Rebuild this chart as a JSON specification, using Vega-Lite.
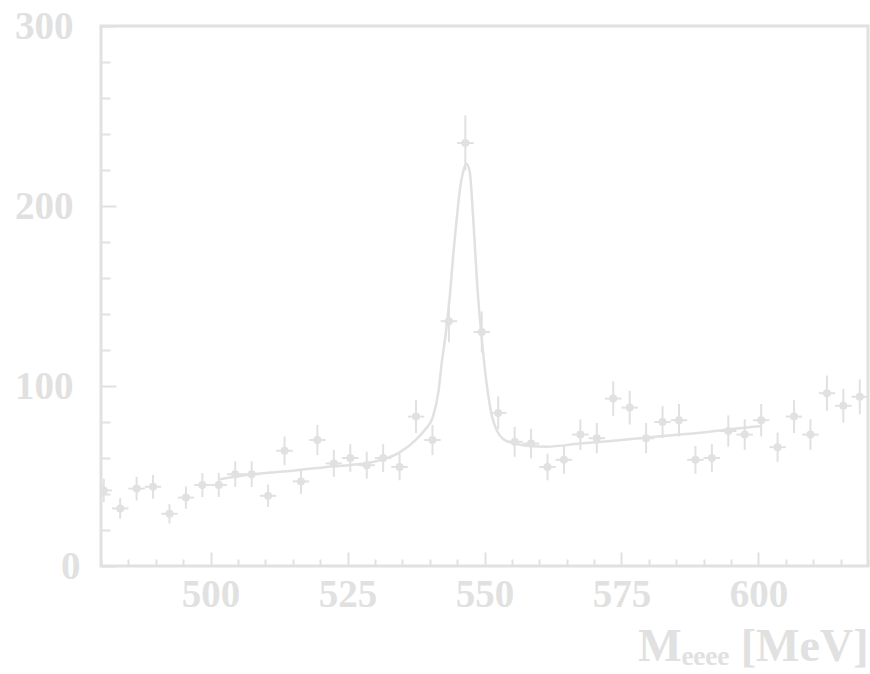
{
  "$schema": "https://vega.github.io/schema/vega-lite/v6.json",
  "width": 767,
  "height": 540,
  "autosize": {"type": "none"},
  "padding": {"left": 101, "top": 26, "right": 2, "bottom": 108},
  "background": "white",
  "config": {
    "view": {"stroke": "#e1e1e1", "strokeWidth": 3},
    "axis": {
      "domain": false,
      "grid": false,
      "tickColor": "#e1e1e1",
      "tickWidth": 2,
      "labelColor": "#e1e1e1",
      "labelFont": "Liberation Serif",
      "labelFontWeight": "bold",
      "labelFontSize": 39,
      "labelOverlap": false,
      "labelFlush": false,
      "labelBound": false,
      "titleColor": "#e1e1e1",
      "titleFont": "Liberation Serif",
      "titleFontWeight": "bold",
      "titleFontSize": 46
    }
  },
  "datasets": {
    "points": [
      {"m": 480.5, "n": 42, "lo": 35.5, "hi": 48.5, "mlo": 479, "mhi": 482},
      {"m": 483.5, "n": 32, "lo": 26.3, "hi": 37.7, "mlo": 482, "mhi": 485},
      {"m": 486.5, "n": 43, "lo": 36.4, "hi": 49.6, "mlo": 485, "mhi": 488},
      {"m": 489.5, "n": 44, "lo": 37.4, "hi": 50.6, "mlo": 488, "mhi": 491},
      {"m": 492.5, "n": 29, "lo": 23.6, "hi": 34.4, "mlo": 491, "mhi": 494},
      {"m": 495.5, "n": 38, "lo": 31.8, "hi": 44.2, "mlo": 494, "mhi": 497},
      {"m": 498.5, "n": 45, "lo": 38.3, "hi": 51.7, "mlo": 497, "mhi": 500},
      {"m": 501.5, "n": 45, "lo": 38.3, "hi": 51.7, "mlo": 500, "mhi": 503},
      {"m": 504.5, "n": 51, "lo": 43.9, "hi": 58.1, "mlo": 503, "mhi": 506},
      {"m": 507.5, "n": 51, "lo": 43.9, "hi": 58.1, "mlo": 506, "mhi": 509},
      {"m": 510.5, "n": 39, "lo": 32.8, "hi": 45.2, "mlo": 509, "mhi": 512},
      {"m": 513.5, "n": 64, "lo": 56, "hi": 72, "mlo": 512, "mhi": 515},
      {"m": 516.5, "n": 47, "lo": 40.1, "hi": 53.9, "mlo": 515, "mhi": 518},
      {"m": 519.5, "n": 70, "lo": 61.6, "hi": 78.4, "mlo": 518, "mhi": 521},
      {"m": 522.5, "n": 57, "lo": 49.5, "hi": 64.5, "mlo": 521, "mhi": 524},
      {"m": 525.5, "n": 60, "lo": 52.3, "hi": 67.7, "mlo": 524, "mhi": 527},
      {"m": 528.5, "n": 56, "lo": 48.5, "hi": 63.5, "mlo": 527, "mhi": 530},
      {"m": 531.5, "n": 60, "lo": 52.3, "hi": 67.7, "mlo": 530, "mhi": 533},
      {"m": 534.5, "n": 55, "lo": 47.6, "hi": 62.4, "mlo": 533, "mhi": 536},
      {"m": 537.5, "n": 83, "lo": 73.9, "hi": 92.1, "mlo": 536, "mhi": 539},
      {"m": 540.5, "n": 70, "lo": 61.6, "hi": 78.4, "mlo": 539, "mhi": 542},
      {"m": 543.5, "n": 136, "lo": 124.3, "hi": 147.7, "mlo": 542, "mhi": 545},
      {"m": 546.5, "n": 235, "lo": 219.7, "hi": 250.3, "mlo": 545, "mhi": 548},
      {"m": 549.5, "n": 130, "lo": 118.6, "hi": 141.4, "mlo": 548, "mhi": 551},
      {"m": 552.5, "n": 85, "lo": 75.8, "hi": 94.2, "mlo": 551, "mhi": 554},
      {"m": 555.5, "n": 69, "lo": 60.7, "hi": 77.3, "mlo": 554, "mhi": 557},
      {"m": 558.5, "n": 68, "lo": 59.8, "hi": 76.2, "mlo": 557, "mhi": 560},
      {"m": 561.5, "n": 55, "lo": 47.6, "hi": 62.4, "mlo": 560, "mhi": 563},
      {"m": 564.5, "n": 59, "lo": 51.3, "hi": 66.7, "mlo": 563, "mhi": 566},
      {"m": 567.5, "n": 73, "lo": 64.5, "hi": 81.5, "mlo": 566, "mhi": 569},
      {"m": 570.5, "n": 71, "lo": 62.6, "hi": 79.4, "mlo": 569, "mhi": 572},
      {"m": 573.5, "n": 93, "lo": 83.4, "hi": 102.6, "mlo": 572, "mhi": 575},
      {"m": 576.5, "n": 88, "lo": 78.6, "hi": 97.4, "mlo": 575, "mhi": 578},
      {"m": 579.5, "n": 71, "lo": 62.6, "hi": 79.4, "mlo": 578, "mhi": 581},
      {"m": 582.5, "n": 80, "lo": 71.1, "hi": 88.9, "mlo": 581, "mhi": 584},
      {"m": 585.5, "n": 81, "lo": 72, "hi": 90, "mlo": 584, "mhi": 587},
      {"m": 588.5, "n": 59, "lo": 51.3, "hi": 66.7, "mlo": 587, "mhi": 590},
      {"m": 591.5, "n": 60, "lo": 52.3, "hi": 67.7, "mlo": 590, "mhi": 593},
      {"m": 594.5, "n": 75, "lo": 66.3, "hi": 83.7, "mlo": 593, "mhi": 596},
      {"m": 597.5, "n": 73, "lo": 64.5, "hi": 81.5, "mlo": 596, "mhi": 599},
      {"m": 600.5, "n": 81, "lo": 72, "hi": 90, "mlo": 599, "mhi": 602},
      {"m": 603.5, "n": 66, "lo": 57.9, "hi": 74.1, "mlo": 602, "mhi": 605},
      {"m": 606.5, "n": 83, "lo": 73.9, "hi": 92.1, "mlo": 605, "mhi": 608},
      {"m": 609.5, "n": 73, "lo": 64.5, "hi": 81.5, "mlo": 608, "mhi": 611},
      {"m": 612.5, "n": 96, "lo": 86.2, "hi": 105.8, "mlo": 611, "mhi": 614},
      {"m": 615.5, "n": 89, "lo": 79.6, "hi": 98.4, "mlo": 614, "mhi": 617},
      {"m": 618.5, "n": 94, "lo": 84.3, "hi": 103.7, "mlo": 617, "mhi": 620}
    ],
    "fit": [
      {"m": 501.7, "f": 48.2},
      {"m": 507.6, "f": 51.0},
      {"m": 514.5, "f": 52.8},
      {"m": 522.6, "f": 55.4},
      {"m": 528.7, "f": 57.2},
      {"m": 531.7, "f": 59.5},
      {"m": 534.6, "f": 63.3},
      {"m": 537.6, "f": 70.5},
      {"m": 539.1, "f": 75.6},
      {"m": 540.6, "f": 83},
      {"m": 541.6, "f": 97},
      {"m": 542.2, "f": 113},
      {"m": 543.0, "f": 131},
      {"m": 543.7, "f": 151},
      {"m": 544.3, "f": 173},
      {"m": 544.9, "f": 192},
      {"m": 545.5, "f": 209},
      {"m": 546.1, "f": 219},
      {"m": 546.7, "f": 223.5},
      {"m": 547.3, "f": 219},
      {"m": 547.9, "f": 195},
      {"m": 548.3, "f": 175},
      {"m": 548.7, "f": 155},
      {"m": 549.2, "f": 136},
      {"m": 549.7, "f": 120},
      {"m": 550.4, "f": 101},
      {"m": 551.3, "f": 84},
      {"m": 552.3, "f": 75},
      {"m": 553.4, "f": 70.5},
      {"m": 555.3, "f": 68.2},
      {"m": 558.3, "f": 66.7},
      {"m": 561.4, "f": 66.3},
      {"m": 567.4, "f": 68.0},
      {"m": 573.5, "f": 69.6},
      {"m": 579.6, "f": 71.4},
      {"m": 585.7, "f": 73.1},
      {"m": 589.9, "f": 74.2},
      {"m": 594.5, "f": 75.9},
      {"m": 600.6, "f": 77.8}
    ]
  },
  "layer": [
    {
      "data": {"name": "points"},
      "mark": {"type": "rule", "color": "#e1e1e1", "strokeWidth": 2, "clip": true},
      "encoding": {
        "x": {
          "field": "m", "type": "quantitative",
          "scale": {"domain": [480, 620], "nice": false, "zero": false},
          "axis": {
            "values": [480, 485, 490, 495, 500, 505, 510, 515, 520, 525, 530, 535, 540, 545, 550, 555, 560, 565, 570, 575, 580, 585, 590, 595, 600, 605, 610, 615, 620],
            "tickCount": 100,
            "labelExpr": "datum.value % 25 === 0 ? datum.label : ''",
            "labelOverlap": false,
            "labelFlush": false,
            "tickSize": {"condition": {"test": "datum.value % 25 === 0", "value": -14}, "value": -7},
            "labelPadding": 23,
            "labelBaseline": "top",
            "title": "Mₑₑₑₑ [MeV]",
            "titleAnchor": "end",
            "titleAlign": "right",
            "titleBaseline": "alphabetic",
            "titleY": 94
          }
        },
        "y": {
          "field": "lo", "type": "quantitative",
          "scale": {"domain": [0, 300], "nice": false},
          "axis": {
            "values": [0, 20, 40, 60, 80, 100, 120, 140, 160, 180, 200, 220, 240, 260, 280, 300],
            "tickCount": 100,
            "labelExpr": "datum.value % 100 === 0 ? datum.label : ''",
            "labelOverlap": false,
            "labelFlush": false,
            "tickSize": {"condition": {"test": "datum.value % 100 === 0", "value": -15}, "value": -9},
            "labelPadding": {"condition": {"test": "datum.value === 0", "value": 36}, "value": 43},
            "labelAlign": "right",
            "labelBaseline": "middle",
            "title": null
          }
        },
        "y2": {"field": "hi"}
      }
    },
    {
      "data": {"name": "points"},
      "mark": {"type": "rule", "color": "#e1e1e1", "strokeWidth": 2, "clip": true},
      "encoding": {
        "x": {"field": "mlo", "type": "quantitative"},
        "x2": {"field": "mhi"},
        "y": {"field": "n", "type": "quantitative"}
      }
    },
    {
      "data": {"name": "points"},
      "mark": {"type": "point", "shape": "circle", "filled": true, "color": "#e1e1e1", "opacity": 1, "size": 64, "clip": true},
      "encoding": {
        "x": {"field": "m", "type": "quantitative"},
        "y": {"field": "n", "type": "quantitative"}
      }
    },
    {
      "data": {"name": "fit"},
      "mark": {"type": "line", "color": "#e1e1e1", "strokeWidth": 2.5, "interpolate": "monotone", "clip": true},
      "encoding": {
        "x": {"field": "m", "type": "quantitative"},
        "y": {"field": "f", "type": "quantitative"}
      }
    }
  ]
}
